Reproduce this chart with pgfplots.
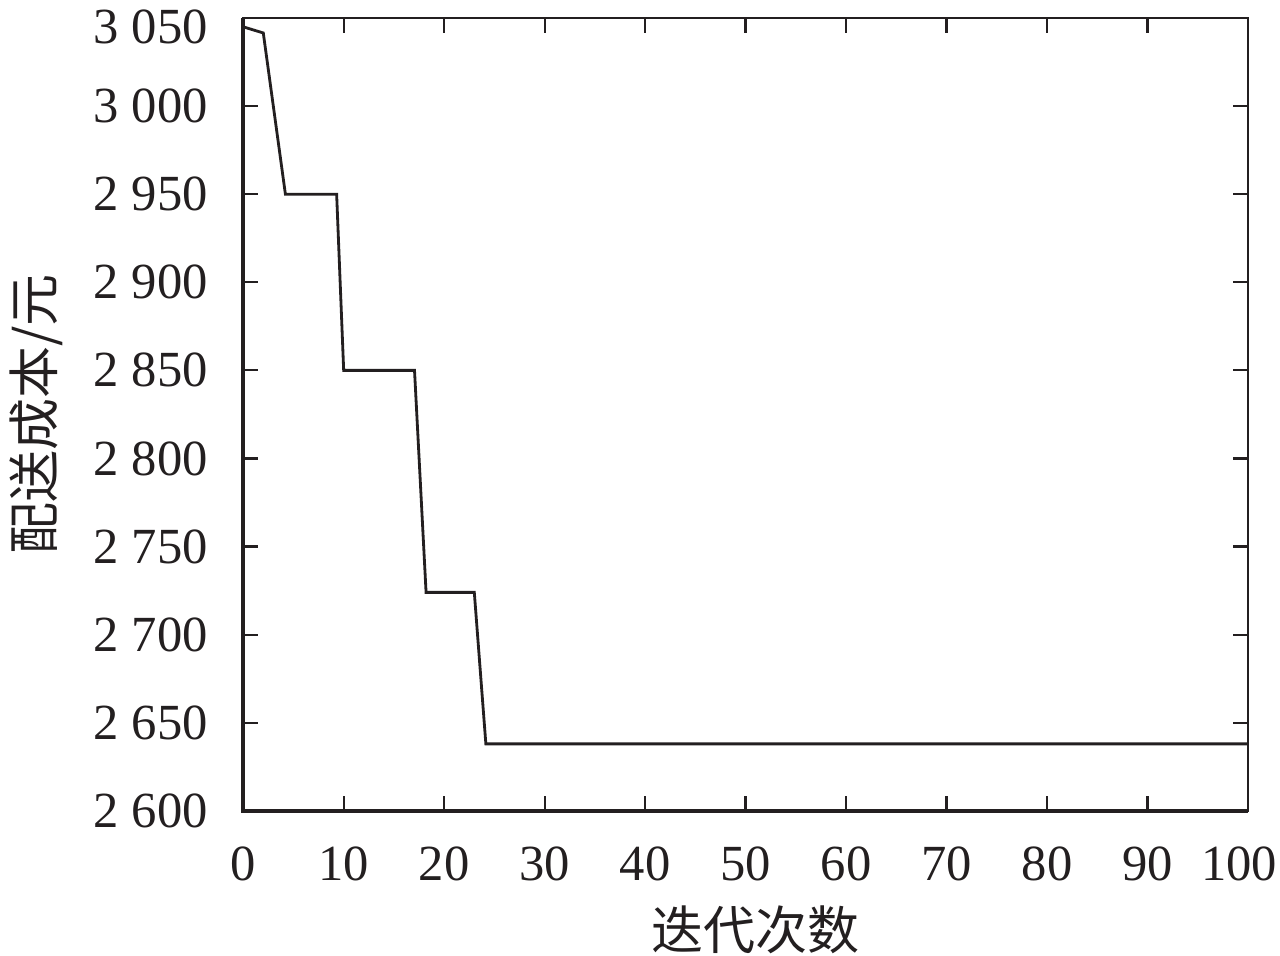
\documentclass[border=0pt]{standalone}
\usepackage{fontspec}
\setmainfont{Liberation Serif}
\newfontfamily\cjk{Noto Sans CJK SC}
\usepackage{pgfplots}
\pgfplotsset{compat=1.18}
\usetikzlibrary{calc}
\definecolor{ink}{HTML}{231F20}

\begin{document}
\begin{tikzpicture}
\begin{axis}[
    name=ax,
    scale only axis,
    width=12.56cm,
    height=9.91cm,
    xmin=0, xmax=100,
    ymin=2600, ymax=3050,
    xtick={0,10,...,100},
    xticklabels={0,10,20,30,40,50,60,70,80,90,{\hspace*{-0.22cm}100}},
    ytick={2600,2650,...,3050},
    yticklabels={2 600,2 650,2 700,2 750,2 800,2 850,2 900,2 950,3 000,{\raisebox{-0.11cm}[\height][0pt]{3 050}}},
    tick align=inside,
    major tick length=0.19cm,
    every tick/.style={ink, line width=0.8pt},
    axis line style={ink, line width=0.8pt},
    tick label style={font=\fontsize{18}{20}\selectfont, text=ink},
    yticklabel shift=0.32cm,
    xticklabel shift=0.33cm,
    xlabel={\cjk 迭代次数},
    ylabel={\cjk 配送成本/元},
    label style={font=\fontsize{18.5}{20}\selectfont, text=ink},
    ylabel style={at={(rel axis cs:0,0.5)}, anchor=center, yshift=2.58cm},
    xlabel style={at={(rel axis cs:0.5,0)}, anchor=north, yshift=-1.06cm, xshift=0.12cm},
]
\addplot[ink, line width=1pt] coordinates {
    (0, 3045)
    (2, 3041.5)
    (4.2, 2950)
    (9.3, 2950)
    (10, 2850)
    (17.05, 2850)
    (18.2, 2724)
    (23, 2724)
    (24.15, 2638)
    (100, 2638)
};
\end{axis}
\draw[ink, line width=1.4pt] (ax.north west) -- (ax.south west) -- (ax.south east);
\pgfresetboundingbox
\path[use as bounding box] ($(ax.south west)+(-3.04cm,-1.81cm)$) rectangle ($(ax.north east)+(0.4cm,0.225cm)$);
\end{tikzpicture}
\end{document}
